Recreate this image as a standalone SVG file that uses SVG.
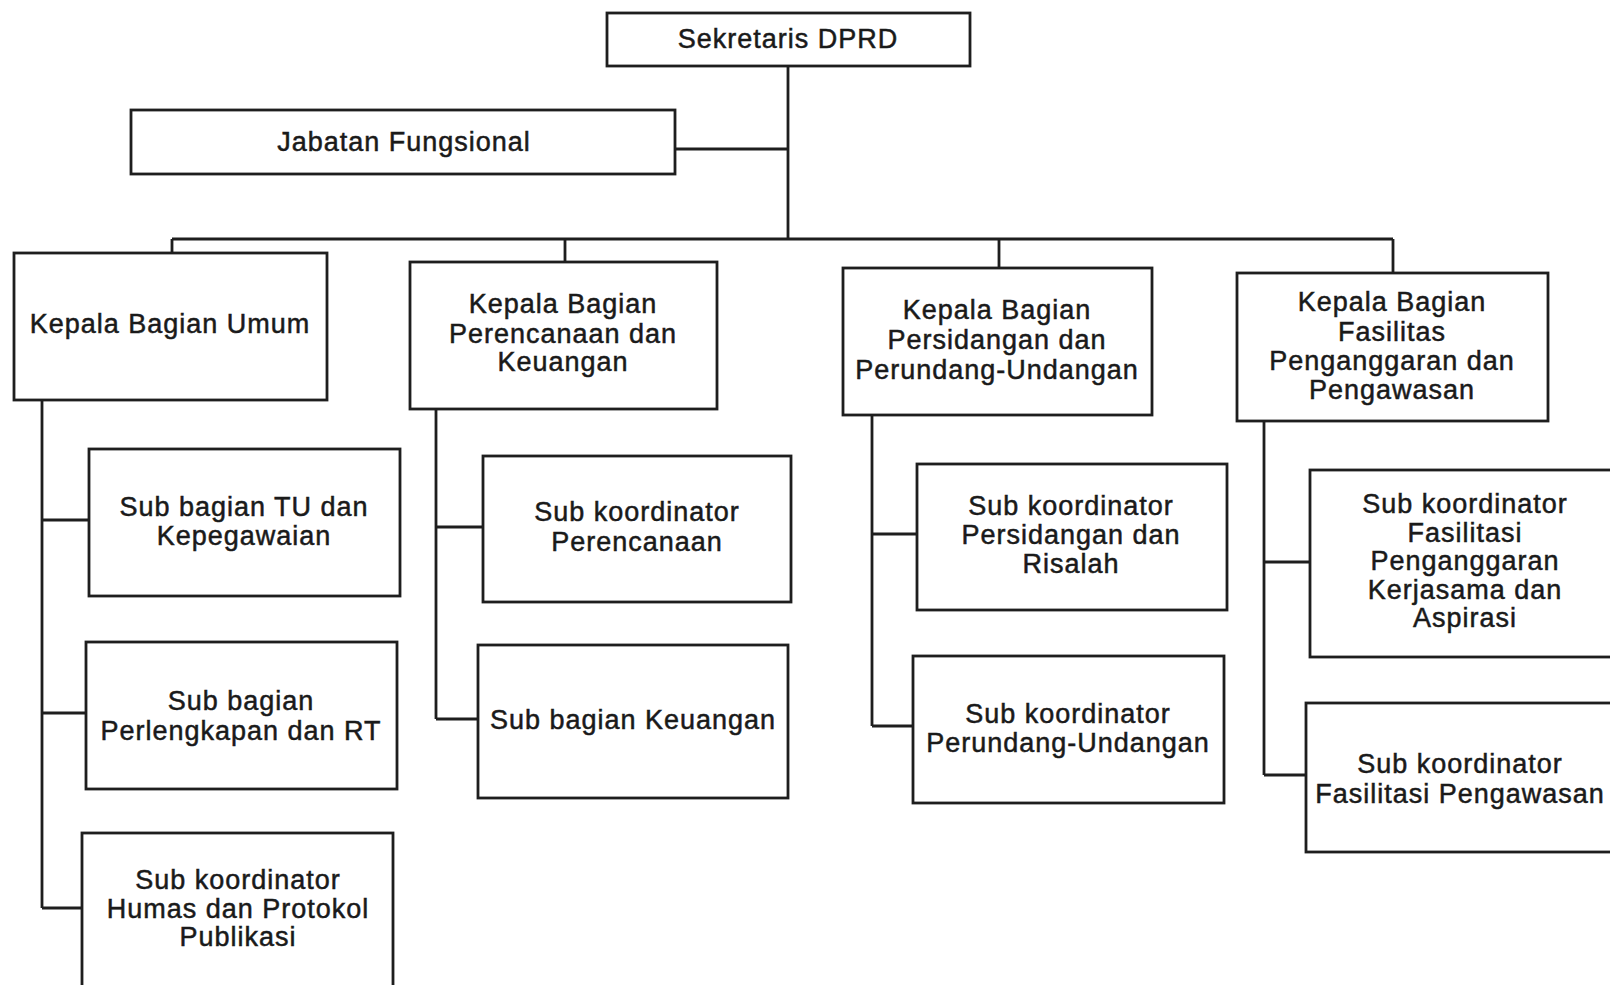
<svg xmlns="http://www.w3.org/2000/svg" width="1610" height="985" viewBox="0 0 1610 985">
<style>
.box{fill:#fff;stroke:#1e1e1e;stroke-width:2.8}
.ln{stroke:#1e1e1e;stroke-width:2.8;fill:none}
text{font-family:"Liberation Sans",Arial,sans-serif;font-size:27px;fill:#1a1a1a;stroke:#1a1a1a;stroke-width:0.5px;text-anchor:middle;letter-spacing:1px}
</style>
<rect width="1610" height="985" fill="#fff"/>
<g id="connectors">
<path class="ln" d="M788,66V239M675,149H788M172,239H1393M172,239V253M565,239V262M999,239V268M1393,239V273"/>
<path class="ln" d="M42,400V908M42,520H89M42,713H86M42,908H82"/>
<path class="ln" d="M436,409V719M436,527H483M436,719H478"/>
<path class="ln" d="M872,415V726M872,534H917M872,726H913"/>
<path class="ln" d="M1264,421V775M1264,562H1310M1264,775H1306"/>
</g>
<g id="sekretaris"><rect class="box" x="607" y="13" width="363" height="53"/><text x="788" y="48">Sekretaris DPRD</text></g>
<g id="jabatan"><rect class="box" x="131" y="110" width="544" height="64"/><text x="404" y="151">Jabatan Fungsional</text></g>
<g id="kb-umum"><rect class="box" x="14" y="253" width="313" height="147"/><text x="170" y="333">Kepala Bagian Umum</text></g>
<g id="kb-perencanaan"><rect class="box" x="410" y="262" width="307" height="147"/><text x="563" y="313">Kepala Bagian</text><text x="563" y="343">Perencanaan dan</text><text x="563" y="371">Keuangan</text></g>
<g id="kb-persidangan"><rect class="box" x="843" y="268" width="309" height="147"/><text x="997" y="319">Kepala Bagian</text><text x="997" y="349">Persidangan dan</text><text x="997" y="379">Perundang-Undangan</text></g>
<g id="kb-fasilitas"><rect class="box" x="1237" y="273" width="311" height="148"/><text x="1392" y="311">Kepala Bagian</text><text x="1392" y="341">Fasilitas</text><text x="1392" y="370">Penganggaran dan</text><text x="1392" y="399">Pengawasan</text></g>
<g id="sb-tu"><rect class="box" x="89" y="449" width="311" height="147"/><text x="244" y="516">Sub bagian TU dan</text><text x="244" y="545">Kepegawaian</text></g>
<g id="sb-perlengkapan"><rect class="box" x="86" y="642" width="311" height="147"/><text x="241" y="710">Sub bagian</text><text x="241" y="740">Perlengkapan dan RT</text></g>
<g id="sk-humas"><rect class="box" x="82" y="833" width="311" height="160"/><text x="238" y="889">Sub koordinator</text><text x="238" y="918">Humas dan Protokol</text><text x="238" y="946">Publikasi</text></g>
<g id="sk-perencanaan"><rect class="box" x="483" y="456" width="308" height="146"/><text x="637" y="521">Sub koordinator</text><text x="637" y="551">Perencanaan</text></g>
<g id="sb-keuangan"><rect class="box" x="478" y="645" width="310" height="153"/><text x="633" y="729">Sub bagian Keuangan</text></g>
<g id="sk-persidangan"><rect class="box" x="917" y="464" width="310" height="146"/><text x="1071" y="515">Sub koordinator</text><text x="1071" y="544">Persidangan dan</text><text x="1071" y="573">Risalah</text></g>
<g id="sk-perundang"><rect class="box" x="913" y="656" width="311" height="147"/><text x="1068" y="723">Sub koordinator</text><text x="1068" y="752">Perundang-Undangan</text></g>
<g id="sk-fasilitasi-penganggaran"><rect class="box" x="1310" y="470" width="320" height="187"/><text x="1465" y="513">Sub koordinator</text><text x="1465" y="542">Fasilitasi</text><text x="1465" y="570">Penganggaran</text><text x="1465" y="599">Kerjasama dan</text><text x="1465" y="627">Aspirasi</text></g>
<g id="sk-fasilitasi-pengawasan"><rect class="box" x="1306" y="703" width="320" height="149"/><text x="1460" y="773">Sub koordinator</text><text x="1460" y="803">Fasilitasi Pengawasan</text></g>
</svg>
